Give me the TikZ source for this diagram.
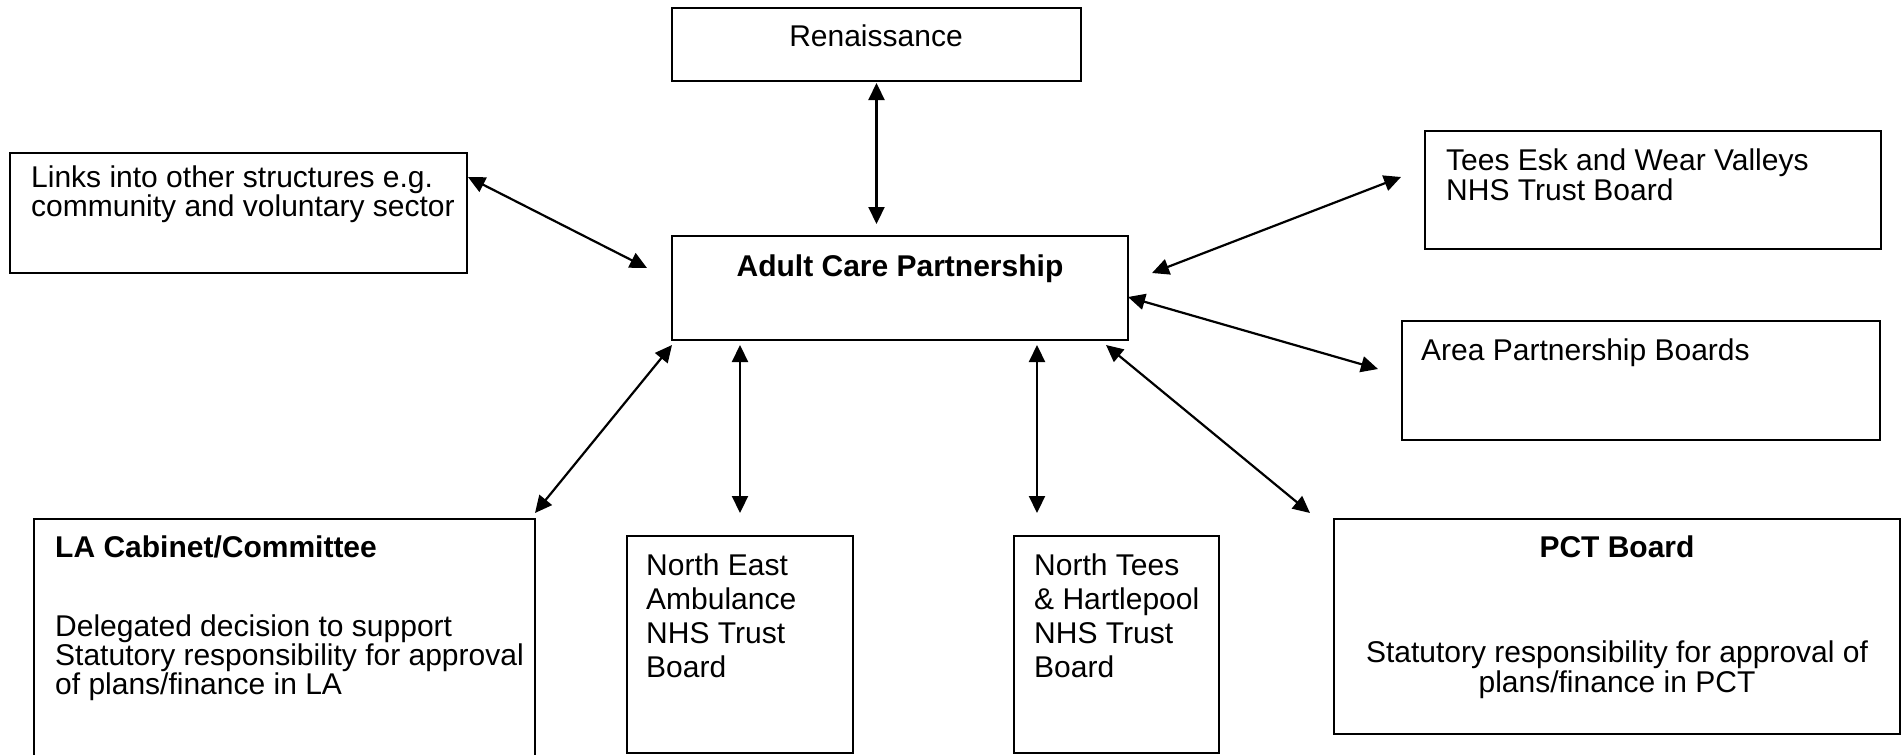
\documentclass[tikz,border=0pt]{standalone}
\usepackage{fontspec}
\setmainfont{Liberation Sans}
\usetikzlibrary{arrows.meta}
\begin{document}
\begin{tikzpicture}[x=1pt,y=-1pt,
  box/.style={draw=black,line width=2pt,anchor=north west,inner sep=0pt,outer sep=0pt},
  txt/.style={anchor=base west,inner sep=0pt,align=left,font=\fontsize{30}{29.5}\selectfont},
  wtxt/.style={anchor=base west,inner sep=0pt,align=left,font=\fontsize{30}{34}\selectfont},
  ctxt/.style={anchor=base,inner sep=0pt,align=center,font=\fontsize{30}{30}\selectfont},
  link/.style={line width=2.2pt,{Triangle[length=17pt,width=16pt]}-{Triangle[length=17pt,width=16pt]}}]
\useasboundingbox (0,0) rectangle (1901,755);
\clip (0,0) rectangle (1901,755);
% boxes
\node[box,minimum width=409pt,minimum height=73pt] (ren) at (672,8) {};
\node[box,minimum width=457pt,minimum height=120pt] (links) at (10,153) {};
\node[box,minimum width=456pt,minimum height=104pt] (ac) at (672,236) {};
\node[box,minimum width=456pt,minimum height=118pt] (tees) at (1425,131) {};
\node[box,minimum width=478pt,minimum height=119pt] (area) at (1402,321) {};
\node[box,minimum width=501pt,minimum height=260pt] (la) at (34,519) {};
\node[box,minimum width=226pt,minimum height=217pt] (ne) at (627,536) {};
\node[box,minimum width=205pt,minimum height=217pt] (nt) at (1014,536) {};
\node[box,minimum width=566pt,minimum height=215pt] (pct) at (1334,519) {};
% texts (multi-line texts are anchored at the baseline of their last line)
\node[ctxt] (renT) at (876,46) {Renaissance};
\node[txt] (linksT) at (31,216.5) {Links into other structures e.g.\\community and voluntary sector};
\node[ctxt,font=\fontsize{30}{30}\selectfont\bfseries] (acT) at (900,276) {Adult Care Partnership};
\node[txt] (teesT) at (1446,200) {Tees Esk and Wear Valleys\\NHS Trust Board};
\node[txt] (areaT) at (1421,360) {Area Partnership Boards};
\node[txt,font=\fontsize{30}{30}\selectfont\bfseries] (laH) at (55,557) {LA Cabinet/Committee};
\node[txt,font=\fontsize{30}{29}\selectfont] (laT) at (55,694) {Delegated decision to support\\Statutory responsibility for approval\\of plans/finance in LA};
\node[wtxt] (neT) at (646,677) {North East\\Ambulance\\NHS Trust\\Board};
\node[wtxt] (ntT) at (1034,677) {North Tees\\\& Hartlepool\\NHS Trust\\Board};
\node[ctxt,font=\fontsize{30}{30}\selectfont\bfseries] (pctH) at (1617,557) {PCT Board};
\node[ctxt] (pctT) at (1617,692) {Statutory responsibility for approval of\\plans/finance in PCT};
% connector end points
\coordinate (r1) at (876.5,83);   \coordinate (r2) at (876.5,224);
\coordinate (l1) at (468,177);    \coordinate (l2) at (647,268);
\coordinate (t1) at (1401,177);   \coordinate (t2) at (1152,273);
\coordinate (a1) at (1128,297);   \coordinate (a2) at (1378,369);
\coordinate (la1) at (672,345);   \coordinate (la2) at (535,513);
\coordinate (ne1) at (740,345);   \coordinate (ne2) at (740,513);
\coordinate (nt1) at (1037,345);  \coordinate (nt2) at (1037,513);
\coordinate (p1) at (1106,345);   \coordinate (p2) at (1310,513);
% connectors
\draw[link] (r1) -- (r2);
\draw[link] (l1) -- (l2);
\draw[link] (t1) -- (t2);
\draw[link] (a1) -- (a2);
\draw[link] (la1) -- (la2);
\draw[link] (ne1) -- (ne2);
\draw[link] (nt1) -- (nt2);
\draw[link] (p1) -- (p2);
\end{tikzpicture}
\end{document}
